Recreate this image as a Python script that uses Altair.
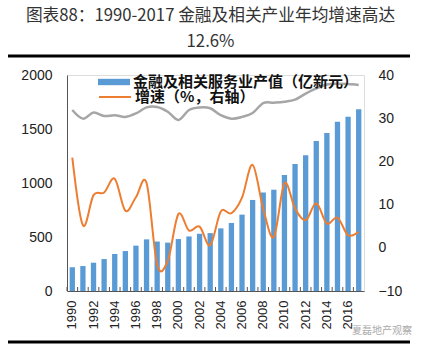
import altair as alt
import pandas as pd

years = ["1990", "1991", "1992", "1993", "1994", "1995", "1996", "1997", "1998", "1999",
         "2000", "2001", "2002", "2003", "2004", "2005", "2006", "2007", "2008", "2009",
         "2010", "2011", "2012", "2013", "2014", "2015", "2016", "2017"]
label_years = ["1990", "1992", "1994", "1996", "1998", "2000", "2002", "2004",
               "2006", "2008", "2010", "2012", "2014", "2016"]
output = [220, 231, 262, 296, 343, 370, 420, 478, 458, 448, 481, 505, 530, 536,
          580, 630, 707, 843, 912, 938, 1074, 1176, 1256, 1389, 1463, 1568, 1614, 1682]
growth = [20.9, 5.2, 12.2, 12.8, 16.0, 8.6, 11.7, 15.0, -3.9, -3.0, 7.8, 4.0, 4.9, 0.6,
          8.4, 8.0, 11.6, 19.2, 9.0, 2.5, 14.9, 9.1, 6.4, 10.3, 5.6, 7.0, 2.9, 3.7]
gray = [31.9, 29.9, 31.3, 30.5, 30.7, 30.3, 31.1, 32.5, 32.6, 31.5, 29.6, 31.9, 32.5, 32.3,
        30.7, 29.9, 30.3, 31.2, 33.5, 33.6, 33.8, 34.3, 35.7, 36.9, 37.8, 38.0, 37.9, 37.7]
bar_name = "金融及相关服务业产值（亿新元）"
line_name = "增速（%，右轴）"
title_lines = ["图表88：1990-2017 金融及相关产业年均增速高达", "12.6%"]
watermark = "夏磊地产观察"

df = pd.DataFrame({"year": years, "output": output, "growth": growth, "gray": gray,
                   "s1": bar_name, "s2": line_name})

W, H = 297, 216
CJK = "Noto Sans CJK SC"
NUM = "Liberation Sans"

x_enc = alt.X("year:O", sort=years,
              scale=alt.Scale(paddingInner=0.5, paddingOuter=0.25),
              axis=alt.Axis(title=None, labelAngle=-90, values=label_years,
                            labelFont=NUM, labelFontSize=13, labelColor="#222",
                            ticks=False, domainColor="#555", domainWidth=1,
                            labelPadding=9))

right_axis = alt.Axis(title=None, orient="right", values=[-10, 0, 10, 20, 30, 40],
                      grid=False, ticks=False, domain=False, labelFont=NUM,
                      labelFontSize=14, labelColor="#222", labelPadding=14, format="d")

base = alt.Chart(df)

bars = base.mark_bar().encode(
    x=x_enc,
    y=alt.Y("output:Q", scale=alt.Scale(domain=[0, 2000]),
            axis=alt.Axis(title=None, values=[0, 500, 1000, 1500, 2000], grid=False,
                          ticks=False, labelFont=NUM, labelFontSize=14, format="d",
                          labelColor="#222", labelPadding=15, domainColor="#555")),
    color=alt.Color("s1:N", scale=alt.Scale(range=["#5B9BD5"]),
                    legend=alt.Legend(title=None, orient="none", legendX=31, legendY=-9,
                                      padding=0, symbolType="M-1,-0.2H1V0.2H-1Z",
                                      symbolSize=1024, symbolStrokeWidth=0,
                                      labelFont=CJK, labelFontWeight="bold",
                                      labelFontSize=15, labelColor="#111",
                                      labelOffset=3, labelLimit=400)),
)

ticks = base.mark_rule(xOffset=-5.3, color="#555").encode(
    x=x_enc, y=alt.value(H), y2=alt.value(H - 4))

deco = alt.Chart(pd.DataFrame({"t": [watermark]}))
top_line = deco.mark_rule(color="#000", strokeWidth=3).encode(
    x=alt.value(-59), x2=alt.value(343), y=alt.value(-19))
bottom_line = deco.mark_rule(color="#000", strokeWidth=3).encode(
    x=alt.value(-59), x2=alt.value(343), y=alt.value(267))
wm = deco.mark_text(font=CJK, fontSize=10, color="#aaa", align="left",
                    baseline="middle").encode(
    text="t:N", x=alt.value(285), y=alt.value(256))

left = alt.layer(bars, ticks, top_line, bottom_line, wm)

gray_line = base.mark_line(color="#A6A6A6", strokeWidth=2.5, interpolate="cardinal",
                           tension=0).encode(
    x=x_enc,
    y=alt.Y("gray:Q", scale=alt.Scale(domain=[-10, 40]), axis=right_axis))

orange = base.mark_line(strokeWidth=2, interpolate="cardinal", tension=0).encode(
    x=x_enc,
    y=alt.Y("growth:Q", scale=alt.Scale(domain=[-10, 40]), axis=right_axis),
    stroke=alt.Stroke("s2:N", scale=alt.Scale(range=["#ED7D31"]),
                      legend=alt.Legend(title=None, orient="none", legendX=31, legendY=5,
                                        padding=0, symbolType="stroke", symbolSize=1024,
                                        symbolStrokeWidth=2, labelFont=CJK,
                                        labelFontWeight="bold", labelFontSize=15,
                                        labelColor="#111", labelOffset=3,
                                        labelLimit=400)),
)

right = alt.layer(gray_line, orange)

chart = alt.layer(left, right).resolve_scale(y="independent").properties(
    width=W, height=H,
    autosize=alt.AutoSizeParams(type="none"),
    padding={"left": 67, "top": 75, "right": 59, "bottom": 62},
    title=alt.TitleParams(text=title_lines, font=CJK, fontSize=16.7, fontWeight="normal",
                          color="#333", anchor="middle", dx=-5, offset=4,
                          lineHeight=26),
).configure_view(stroke=None).configure(background="white")

chart.save("out.html", embed_options={"renderer": "svg", "actions": False})
